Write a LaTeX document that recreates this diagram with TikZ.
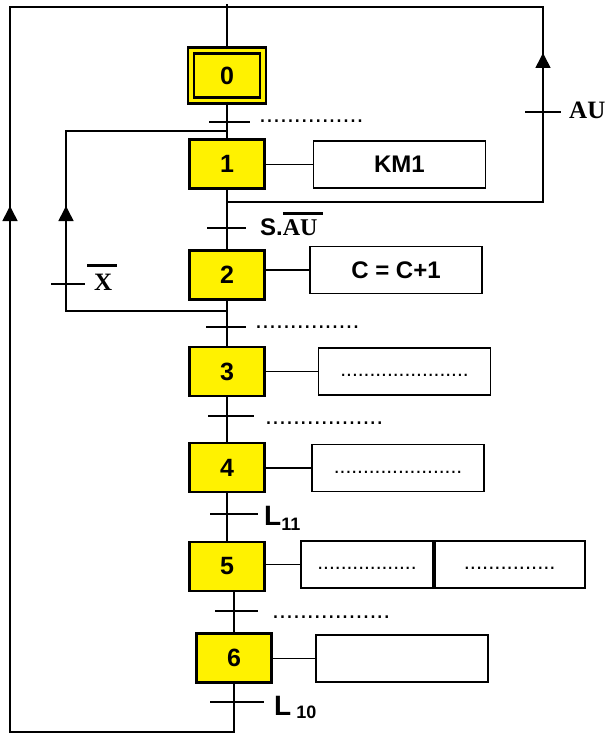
\documentclass[tikz,border=0pt]{standalone}
\usepackage{fontspec}
\setmainfont{Liberation Sans}
\newfontfamily\serifgras{Liberation Serif}
\usetikzlibrary{arrows.meta}
% barre au-dessus d'une variable (complément)
\newcommand\barre[2][4pt]{\vbox{\hrule height 2.8pt\kern#1\hbox{#2}}}
\tikzset{
  etape/.style={draw, fill=yellow, line width=2.2pt, minimum width=75pt,
    minimum height=49pt, inner sep=0pt, font=\fontsize{25}{25}\selectfont\bfseries},
  action/.style={draw, fill=white, line width=1.7pt, minimum width=172pt,
    minimum height=47pt, inner sep=0pt, font=\fontsize{24}{24}\selectfont\bfseries},
  ligne/.style={line width=1.5pt},
  trait/.style={line width=1.6pt},
  fleche/.style={line width=1.6pt, -{Triangle[width=15pt,length=15pt]}},
  recep/.style={anchor=base west, inner sep=0pt, font=\fontsize{24}{24}\selectfont\bfseries},
  pointille/.style={anchor=base west, inner sep=0pt, font=\fontsize{25}{25}\selectfont}
}
\begin{document}
\begin{tikzpicture}[x=1pt,y=-1pt]
\useasboundingbox (0,0) rectangle (606,733);
% étapes
\node[etape, minimum width=72pt, minimum height=50pt, line width=2.5pt,
  double=yellow, double distance=3.5pt] (s0) at (227,75.5) {0};
\node[etape] (s1) at (227,164) {1};
\node[etape] (s2) at (227,275) {2};
\node[etape] (s3) at (227,371.5) {3};
\node[etape] (s4) at (227,467.5) {4};
\node[etape] (s5) at (227,566.5) {5};
\node[etape] (s6) at (234,658) {6};
% actions
\node[action] (a1) at (399.5,164.5) {KM1};
\node[action] (a2) at (396,270) {C = C+1};
\node[action] (a3) at (404.5,371.5) {\fontsize{21}{21}\selectfont\mdseries\vphantom{Ag}......................};
\node[action] (a4) at (398,468) {\fontsize{21}{21}\selectfont\mdseries\vphantom{Ag}......................};
\node[action, minimum width=132pt] (a5) at (367,564.5) {\fontsize{21}{21}\selectfont\mdseries\vphantom{Ag}.................};
\node[action, minimum width=150pt, anchor=west] (a5b) at (a5.east) {\fontsize{22}{22}\selectfont\mdseries\vphantom{Ag}...............};
\node[action] (a6) at (402.3,658.5) {};
\foreach \i in {1,...,6}
  \draw[ligne] (s\i.east |- a\i.west) -- (a\i.west);
% coins et jonctions des boucles
\coordinate (hg) at (10,7);
\coordinate (hd) at (543,7);
\coordinate (bg) at (10,732);
\coordinate (jAU) at (227,202);
\coordinate (cAU) at (543,202);
\coordinate (jXb) at (227,311);
\coordinate (cXb) at (66,311);
\coordinate (cXh) at (66,131);
\coordinate (jXh) at (227,131);
% liaisons
\draw[ligne] (s0) -- (s0 |- 0,4);
\draw[ligne] (s0) -- (s1);
\draw[ligne] (s1) -- (s2);
\draw[ligne] (s2) -- (s3);
\draw[ligne] (s3) -- (s4);
\draw[ligne] (s4) -- (s5);
\draw[ligne] (s5.south -| s6) -- (s6);
\draw[ligne] (s6) -- (s6 |- bg) -- (bg) -- (hg) -- (hd) -- (cAU) -- (jAU);
\draw[ligne] (jXb) -- (cXb) -- (cXh) -- (jXh);
\draw[fleche] (10,222) -- (10,206);
\draw[fleche] (66,222) -- (66,206);
\draw[fleche] (543,69) -- (543,53);
% transitions
\foreach \nom/\xx/\yy/\g/\d in {t01/227/122/18/23, t12/227/228/20/19,
    t23/227/327/21/19, t34/227/416/19/27, t45/227/514/17/31,
    t56/234/611/19/24, t6/234/702/24/30, tAU/543/112/18/18, tX/66/284/15/19}{
  \coordinate (\nom) at (\xx,\yy);
  \draw[trait] (\nom) ++(-\g,0) -- ++(\g+\d,0);
}
% réceptivités
\node[pointille] (r01) at (259,123) {...............};
\node[recep] (r12) at (260,235) {S.\serifgras\barre{AU\kern5pt}};
\node[pointille] (r23) at (255,328) {...............};
\node[pointille] (r34) at (265,424) {.................};
\node[recep, font=\fontsize{28}{28}\selectfont\bfseries] (r45) at (264,525)
  {L\raisebox{-5pt}{\fontsize{18}{18}\selectfont 11}};
\node[pointille] (r56) at (272,618) {.................};
\node[recep, font=\fontsize{28}{28}\selectfont\bfseries] (r6) at (274,715)
  {L\raisebox{-3pt}{\fontsize{18}{18}\selectfont\ 10}};
\node[recep, font=\fontsize{25}{25}\serifgras\bfseries] (rAU) at (569,119) {AU};
\node[recep, font=\fontsize{25}{25}\serifgras\bfseries] (rX) at (87,290)
  {\barre[7pt]{\kern7pt X\kern5pt}};
\end{tikzpicture}
\end{document}
